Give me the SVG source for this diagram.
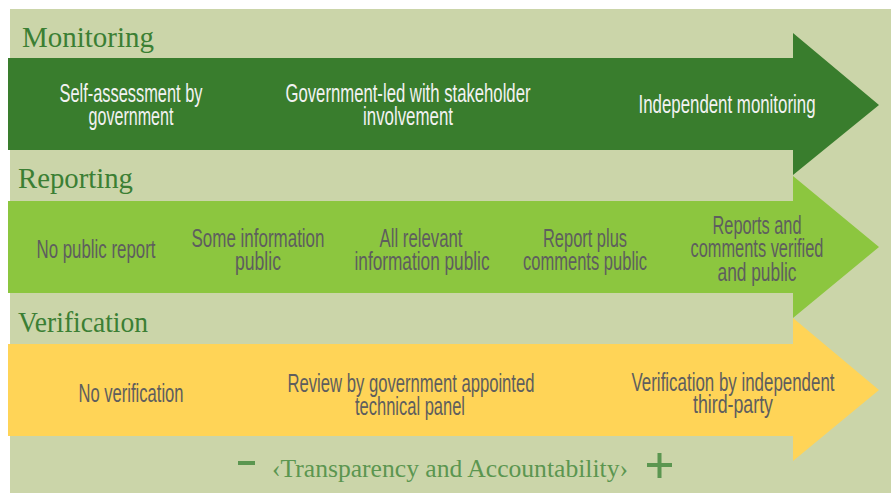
<svg xmlns="http://www.w3.org/2000/svg" width="891" height="493" viewBox="0 0 891 493">
<style>
.title{font-family:"Liberation Serif","Times New Roman",serif;font-size:29px;fill:#3b7f34}
.lbl{font-family:"Liberation Sans",Arial,sans-serif;font-size:25px;text-anchor:middle}
.w{fill:#f2f2f2}
.g{fill:#5e5e5e}
.axis{font-family:"Liberation Serif","Times New Roman",serif;font-size:25px;fill:#5b9650}
</style>
<rect x="0" y="0" width="891" height="493" fill="#ffffff"/>
<rect x="10" y="9" width="881" height="484" fill="#cbd5a9"/>

<g id="monitoring">
  <polygon points="8,58 793,58 793,33 879,105 793,175 793,150 8,150" fill="#397d2d"/>
  <text class="title" x="22" y="47" textLength="132" lengthAdjust="spacingAndGlyphs">Monitoring</text>
  <text class="lbl w" x="131" y="102" textLength="143" lengthAdjust="spacingAndGlyphs">Self-assessment by</text>
  <text class="lbl w" x="131" y="125" textLength="85" lengthAdjust="spacingAndGlyphs">government</text>
  <text class="lbl w" x="408" y="102" textLength="245" lengthAdjust="spacingAndGlyphs">Government-led with stakeholder</text>
  <text class="lbl w" x="408" y="125" textLength="90" lengthAdjust="spacingAndGlyphs">involvement</text>
  <text class="lbl w" x="727" y="113" textLength="177" lengthAdjust="spacingAndGlyphs">Independent monitoring</text>
</g>

<g id="reporting">
  <polygon points="8,201 793,201 793,176 879,247 793,318 793,293 8,293" fill="#8cc63f"/>
  <text class="title" x="18" y="188" textLength="115" lengthAdjust="spacingAndGlyphs">Reporting</text>
  <text class="lbl g" x="96" y="258" textLength="119" lengthAdjust="spacingAndGlyphs">No public report</text>
  <text class="lbl g" x="258" y="247" textLength="133" lengthAdjust="spacingAndGlyphs">Some information</text>
  <text class="lbl g" x="258" y="270" textLength="46" lengthAdjust="spacingAndGlyphs">public</text>
  <text class="lbl g" x="421" y="247" textLength="83" lengthAdjust="spacingAndGlyphs">All relevant</text>
  <text class="lbl g" x="422" y="270" textLength="135" lengthAdjust="spacingAndGlyphs">information public</text>
  <text class="lbl g" x="585" y="247" textLength="84" lengthAdjust="spacingAndGlyphs">Report plus</text>
  <text class="lbl g" x="585" y="270" textLength="124" lengthAdjust="spacingAndGlyphs">comments public</text>
  <text class="lbl g" x="757" y="234" textLength="89" lengthAdjust="spacingAndGlyphs">Reports and</text>
  <text class="lbl g" x="757" y="257" textLength="133" lengthAdjust="spacingAndGlyphs">comments verified</text>
  <text class="lbl g" x="757" y="281" textLength="79" lengthAdjust="spacingAndGlyphs">and public</text>
</g>

<g id="verification">
  <polygon points="8,344 793,344 793,318 879,390 793,461 793,436 8,436" fill="#ffd457"/>
  <text class="title" x="18" y="332" textLength="130" lengthAdjust="spacingAndGlyphs">Verification</text>
  <text class="lbl g" x="131" y="402" textLength="105" lengthAdjust="spacingAndGlyphs">No verification</text>
  <text class="lbl g" x="411" y="392" textLength="247" lengthAdjust="spacingAndGlyphs">Review by government appointed</text>
  <text class="lbl g" x="410" y="415" textLength="110" lengthAdjust="spacingAndGlyphs">technical panel</text>
  <text class="lbl g" x="733" y="391" textLength="203" lengthAdjust="spacingAndGlyphs">Verification by independent</text>
  <text class="lbl g" x="733" y="413" textLength="80" lengthAdjust="spacingAndGlyphs">third-party</text>
</g>

<g id="axis">
  <rect x="238" y="461" width="17" height="4" fill="#5b9650"/>
  <text class="axis" x="272" y="477" textLength="356" lengthAdjust="spacingAndGlyphs">‹Transparency and Accountability›</text>
  <rect x="647" y="463" width="25" height="4" fill="#5b9650"/>
  <rect x="657.5" y="453" width="4" height="25" fill="#5b9650"/>
</g>

<g id="connectors"></g>
</svg>
